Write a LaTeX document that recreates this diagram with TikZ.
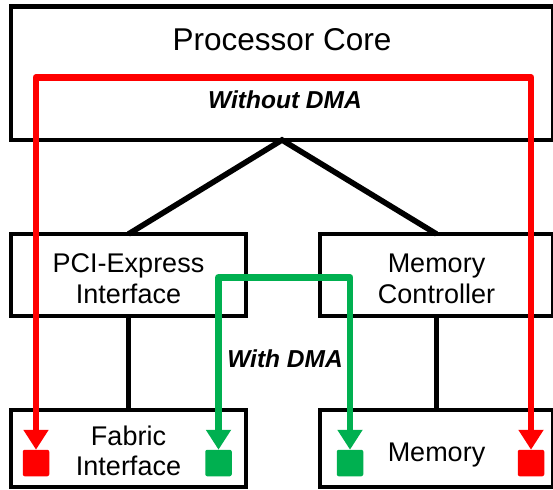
\documentclass[tikz,border=0pt]{standalone}
\usepackage{fontspec}
\setmainfont{Liberation Sans}
\usetikzlibrary{arrows.meta}
\definecolor{dmared}{RGB}{255,0,0}
\definecolor{dmagreen}{RGB}{0,176,80}

\begin{document}
\begin{tikzpicture}[x=1pt,y=-1pt,
  blockbox/.style={draw=black, line width=4.8pt, rectangle, inner sep=0pt, outer sep=0pt},
  bus/.style={draw=black, line width=5.6pt},
  bigtxt/.style={inner sep=0pt, anchor=base, font=\fontsize{31.5}{37}\selectfont},
  boxtxt/.style={inner sep=0pt, anchor=base, font=\fontsize{27}{31}\selectfont},
  pathtxt/.style={inner sep=0pt, anchor=base, font=\fontsize{24.5}{29}\selectfont\bfseries\itshape},
  endpt/.style={rectangle, rounded corners=2pt, minimum size=26.5pt, inner sep=0pt, outer sep=0pt, fill=#1},
  flow/.style={draw=#1, line width=6.8pt, line join=round,
    {Triangle[length=20pt,width=24pt]}-{Triangle[length=20pt,width=24pt]}}
]
\useasboundingbox (0,0) rectangle (553,489);
\clip (0,0) rectangle (553,489);

% white page
\fill[white] (0,0) rectangle (553,489);

% blocks
\node[blockbox, minimum width=542pt, minimum height=133.5pt] (proc)   at (282,73.25) {};
\node[blockbox, minimum width=235pt, minimum height=82pt]    (pci)    at (128.5,275) {};
\node[blockbox, minimum width=233pt, minimum height=82pt]    (memctl) at (436.5,275) {};
\node[blockbox, minimum width=235pt, minimum height=77pt]    (fabric) at (128.5,448.5) {};
\node[blockbox, minimum width=233pt, minimum height=77pt]    (mem)    at (436.5,448.5) {};

% block labels
\node[bigtxt] (proctxt) at (282,51) {Processor Core};
\node[boxtxt] (pcitxtA) at (128.5,272) {PCI-Express};
\node[boxtxt] (pcitxtB) at (128.5,303) {Interface};
\node[boxtxt] (mctxtA)  at (436.5,272) {Memory};
\node[boxtxt] (mctxtB)  at (436.5,303) {Controller};
\node[boxtxt] (fabtxtA) at (128.5,445) {Fabric};
\node[boxtxt] (fabtxtB) at (128.5,475) {Interface};
\node[boxtxt] (memtxt)  at (436.5,461) {Memory};

% interconnect
\draw[bus] (pci.north) -- (proc.south) -- (memctl.north);
\draw[bus] (pci.south) -- (fabric.north);
\draw[bus] (memctl.south) -- (mem.north);

% transfer end points
\node[endpt=dmared]   (rsrc) at (36,463) {};
\node[endpt=dmagreen] (gsrc) at (218.5,463) {};
\node[endpt=dmagreen] (gdst) at (350,463) {};
\node[endpt=dmared]   (rdst) at (531,463) {};

% transfer paths
\coordinate (redtop) at (0,77.5);
\coordinate (greentop) at (0,277.5);
\draw[flow=dmared] (rsrc.north) -- (rsrc.north |- redtop) -- (rdst.north |- redtop) -- (rdst.north);
\draw[flow=dmagreen] (gsrc.north) -- (gsrc.north |- greentop) -- (gdst.north |- greentop) -- (gdst.north);

% path labels
\node[pathtxt] (nodma) at (285,109) {Without DMA};
\node[pathtxt] (dma)   at (285,367) {With DMA};
\end{tikzpicture}
\end{document}
